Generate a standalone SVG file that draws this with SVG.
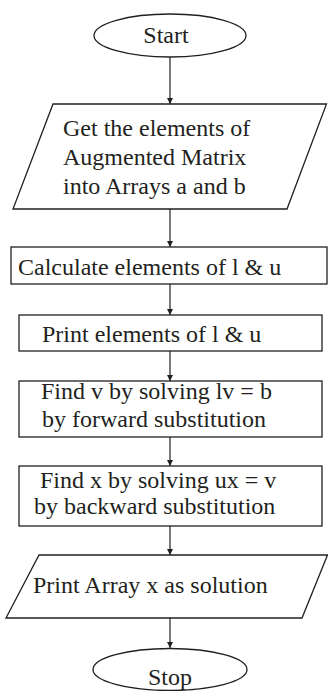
<svg xmlns="http://www.w3.org/2000/svg" width="328" height="691" viewBox="0 0 328 691">
<style>
.s{fill:#fff;stroke:#231f20;stroke-width:1.3}
.t{font-family:'Liberation Serif','DejaVu Serif',serif;font-size:24px;fill:#231f20}
.c{stroke:#231f20;stroke-width:1.2;fill:none}
</style>
<defs>
<marker id="ah" viewBox="0 0 6 8" refX="6" refY="4" markerWidth="6" markerHeight="8" orient="auto" markerUnits="userSpaceOnUse">
<path d="M0,1 L6,4 L0,7 z" fill="#231f20"/>
</marker>
</defs>
<rect width="328" height="691" fill="#fff"/>
<g id="connectors">
<line class="c" x1="170" y1="57" x2="170" y2="104" marker-end="url(#ah)"/>
<line class="c" x1="170" y1="209" x2="170" y2="247" marker-end="url(#ah)"/>
<line class="c" x1="170" y1="284" x2="170" y2="315" marker-end="url(#ah)"/>
<line class="c" x1="170" y1="351" x2="170" y2="381" marker-end="url(#ah)"/>
<line class="c" x1="170" y1="437" x2="170" y2="466" marker-end="url(#ah)"/>
<line class="c" x1="170" y1="526" x2="170" y2="555" marker-end="url(#ah)"/>
<line class="c" x1="170" y1="618" x2="170" y2="648" marker-end="url(#ah)"/>
</g>
<g id="start">
<ellipse class="s" cx="170" cy="35.5" rx="76" ry="21.5"/>
<text class="t" font-family="Liberation Serif, serif" x="166" y="43" text-anchor="middle">Start</text>
</g>
<g id="input">
<polygon class="s" points="53,104 326.5,104 287,209 13,209"/>
<text class="t" font-family="Liberation Serif, serif" x="63" y="136">Get the elements of</text>
<text class="t" font-family="Liberation Serif, serif" x="63" y="165">Augmented Matrix</text>
<text class="t" font-family="Liberation Serif, serif" x="63" y="194">into Arrays a and b</text>
</g>
<g id="calc">
<rect class="s" x="11" y="247" width="316" height="37"/>
<text class="t" font-family="Liberation Serif, serif" x="18" y="275">Calculate elements of l &amp; u</text>
</g>
<g id="printlu">
<rect class="s" x="19" y="315" width="303" height="36"/>
<text class="t" font-family="Liberation Serif, serif" x="42" y="342">Print elements of l &amp; u</text>
</g>
<g id="forward">
<rect class="s" x="19" y="381" width="303" height="56"/>
<text class="t" font-family="Liberation Serif, serif" x="41" y="399">Find v by solving lv = b</text>
<text class="t" font-family="Liberation Serif, serif" x="42" y="427">by forward substitution</text>
</g>
<g id="backward">
<rect class="s" x="19" y="466" width="303" height="60"/>
<text class="t" font-family="Liberation Serif, serif" x="40" y="488">Find x by solving ux = v</text>
<text class="t" font-family="Liberation Serif, serif" x="34" y="514">by backward substitution</text>
</g>
<g id="output">
<polygon class="s" points="39,555 327.5,555 302,618 6,618"/>
<text class="t" font-family="Liberation Serif, serif" x="33" y="593">Print Array x as solution</text>
</g>
<g id="stop">
<ellipse class="s" cx="170" cy="669.5" rx="77" ry="21"/>
<text class="t" font-family="Liberation Serif, serif" x="170" y="685" text-anchor="middle">Stop</text>
</g>
</svg>
